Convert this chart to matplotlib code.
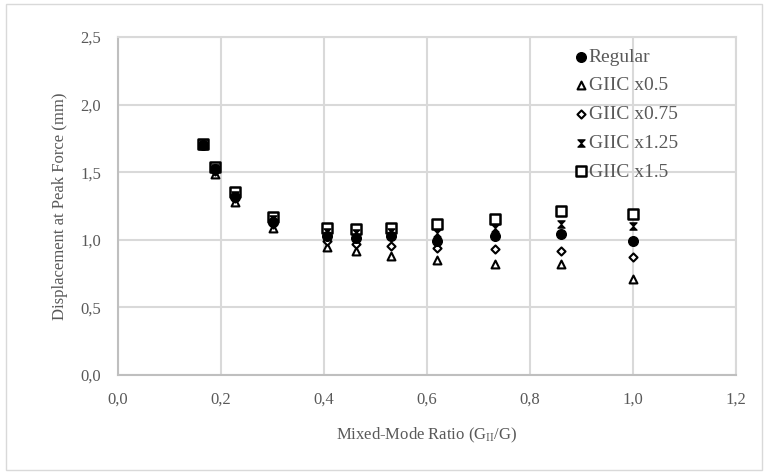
import numpy as np
import matplotlib
matplotlib.use('Agg')
import matplotlib.pyplot as plt
from matplotlib.path import Path
from matplotlib.patches import Rectangle

plt.rcParams['font.family'] = ['Liberation Serif', 'DejaVu Serif']
plt.rcParams['mathtext.fontset'] = 'custom'
plt.rcParams['mathtext.rm'] = 'Liberation Serif'
plt.rcParams['mathtext.it'] = 'Liberation Serif'
plt.rcParams['mathtext.default'] = 'rm'

# mixed-mode ratio
ratio = [0.165, 0.189, 0.227, 0.301, 0.407, 0.463, 0.531, 0.620, 0.732, 0.860, 1.000]

# displacement at peak force (mm)
regular = [1.70, 1.52, 1.32, 1.13, 1.03, 1.01, 1.03, 0.99, 1.03, 1.04, 0.99]
giic_050 = [1.70, 1.49, 1.28, 1.09, 0.95, 0.92, 0.88, 0.85, 0.82, 0.82, 0.71]
giic_075 = [1.70, 1.51, 1.31, 1.12, 0.99, 0.97, 0.955, 0.94, 0.93, 0.915, 0.87]
giic_125 = [1.71, 1.53, 1.33, 1.15, 1.06, 1.05, 1.06, 1.05, 1.09, 1.115, 1.10]
giic_150 = [1.71, 1.54, 1.35, 1.17, 1.09, 1.08, 1.09, 1.12, 1.15, 1.21, 1.19]

labels = ['Regular', 'GIIC x0.5', 'GIIC x0.75', 'GIIC x1.25', 'GIIC x1.5']

x_ticks = [0.0, 0.2, 0.4, 0.6, 0.8, 1.0, 1.2]
x_ticklabels = ['0,0', '0,2', '0,4', '0,6', '0,8', '1,0', '1,2']
y_ticks = [0.0, 0.5, 1.0, 1.5, 2.0, 2.5]
y_ticklabels = ['0,0', '0,5', '1,0', '1,5', '2,0', '2,5']

hourglass = Path([(-1, 1), (1, 1), (-1, -1), (1, -1), (-1, 1)],
                 [Path.MOVETO, Path.LINETO, Path.LINETO, Path.LINETO, Path.CLOSEPOLY])

text_col = '#595959'
grid_col = '#d9d9d9'

fig = plt.figure(figsize=(7.68, 4.74), dpi=100)
fig.patches.append(Rectangle((0.008, 0.008), 0.984, 0.984, transform=fig.transFigure,
                             fill=False, edgecolor='#d9d9d9', linewidth=1.0))
ax = fig.add_axes([0.1536, 0.2089, 0.8044, 0.7131])

ax.scatter(ratio, regular, marker='o', s=48, facecolor='black', edgecolor='black',
           linewidth=1, label=labels[0], zorder=5)
ax.scatter(ratio, giic_050, marker='^', s=32, facecolor='white', edgecolor='black',
           linewidth=1.5, label=labels[1], zorder=3)
ax.scatter(ratio, giic_075, marker='D', s=17, facecolor='white', edgecolor='black',
           linewidth=1.5, label=labels[2], zorder=4)
ax.scatter(ratio, giic_125, marker=hourglass, s=28, facecolor='black', edgecolor='black',
           linewidth=0.8, label=labels[3], zorder=4)
ax.scatter(ratio, giic_150, marker='s', s=46, facecolor='white', edgecolor='black',
           linewidth=1.8, label=labels[4], zorder=3)

ax.set_xlim(0, 1.2)
ax.set_ylim(0, 2.5)
ax.set_xticks(x_ticks)
ax.set_xticklabels(x_ticklabels)
ax.set_yticks(y_ticks)
ax.set_yticklabels(y_ticklabels)
ax.tick_params(length=0, labelsize=12, labelcolor=text_col)
ax.tick_params(axis='x', pad=12)
ax.tick_params(axis='y', pad=12)
ax.grid(True, color=grid_col, linewidth=1.5)
ax.set_axisbelow(True)
for side in ['top', 'right']:
    ax.spines[side].set_color(grid_col)
    ax.spines[side].set_linewidth(1.5)
for side in ['left', 'bottom']:
    ax.spines[side].set_color('#bfbfbf')
    ax.spines[side].set_linewidth(1.5)

ax.set_xlabel('Mixed-Mode Ratio (G$_{II}$/G)', fontsize=12, color=text_col, labelpad=13)
ax.set_ylabel('Displacement at Peak Force (mm)', fontsize=12, color=text_col, labelpad=9)

leg = ax.legend(loc='upper left', bbox_to_anchor=(0.718, 0.99), frameon=False, fontsize=14,
                handletextpad=-0.2, labelspacing=0.57, handlelength=1.2, borderaxespad=0)
for t in leg.get_texts():
    t.set_color(text_col)

fig.savefig('out.png', dpi=100)
